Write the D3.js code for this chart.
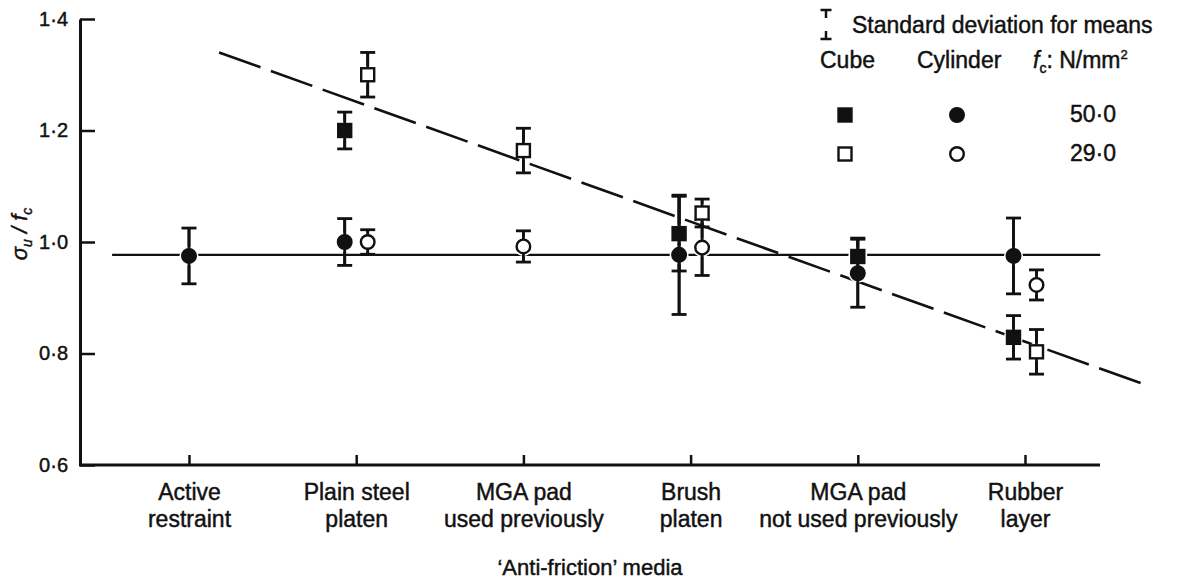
<!DOCTYPE html>
<html>
<head>
<meta charset="utf-8">
<script src="https://cdn.jsdelivr.net/npm/d3@7"></script>
<style>
  html, body { margin: 0; padding: 0; background: #fff; }
  svg { display: block; font-family: "Liberation Sans", Arial, Helvetica, sans-serif; }
  svg text { stroke: #111; stroke-width: 0.45px; }
</style>
</head>
<body>
<script>
// Anti-friction media along the loading platens
const categories = [
  "Active restraint",
  "Plain steel platen",
  "MGA pad used previously",
  "Brush platen",
  "MGA pad not used previously",
  "Rubber layer"
];
const categoryLines = [
  ["Active", "restraint"],
  ["Plain steel", "platen"],
  ["MGA pad", "used previously"],
  ["Brush", "platen"],
  ["MGA pad", "not used previously"],
  ["Rubber", "layer"]
];

// Mean sigma_u / f_c and standard deviation per medium (null = not tested)
const cube50     = [null, 1.200, null, 1.015, 0.974, 0.829];
const cube50Sd   = [null, 0.033, null, 0.067, 0.033, 0.039];
const cube29     = [null, 1.300, 1.164, 1.052, null, 0.803];
const cube29Sd   = [null, 0.040, 0.040, 0.025, null, 0.040];
const cyl50      = [0.975, 1.000, null, 0.977, 0.944, 0.975];
const cyl50Sd    = [0.050, 0.042, null, 0.107, 0.061, 0.068];
const cyl29      = [null, 1.000, 0.992, 0.990, null, 0.923];
const cyl29Sd    = [null, 0.022, 0.028, 0.050, null, 0.027];

// Reference lines (x given as category index)
const cylinderMeanLine = { value: 0.977, from: -0.46, to: 5.45 };
const cubeTrendLine = [ { i: 0.18, v: 1.340 }, { i: 5.70, v: 0.746 } ];

const yTicks = [0.6, 0.8, 1.0, 1.2, 1.4];
const strengthLabels = ["50·0", "29·0"];

const W = 1182, H = 581;
const plot = { left: 80, right: 1100, top: 19, bottom: 465 };
const ink = "#111";

const svg = d3.select("body").append("svg").attr("width", W).attr("height", H);

const x = d3.scalePoint().domain(categories).range([189, 1025]);
const xi = d3.scaleLinear().domain([0, categories.length - 1]).range(x.range());
const y = d3.scaleLinear().domain([0.6, 1.4]).range([plot.bottom, plot.top]);

// y axis: ticks point into the plot
const yAxis = d3.axisLeft(y)
  .tickValues(yTicks)
  .tickSizeInner(-15)
  .tickSizeOuter(0)
  .tickPadding(12)
  .tickFormat(d => d3.format(".1f")(d).replace(".", "·"));
const gy = svg.append("g").attr("transform", `translate(${plot.left},0)`).call(yAxis);
gy.select(".domain").attr("stroke", ink).attr("stroke-width", 3);
gy.selectAll(".tick line").attr("stroke", ink).attr("stroke-width", 2.5);
gy.selectAll(".tick text").attr("fill", ink).attr("font-size", 20)
  .attr("font-family", "'Liberation Sans', Arial, sans-serif");

// x axis: baseline spans the whole frame, ticks point up
svg.append("line")
  .attr("x1", plot.left - 1).attr("x2", plot.right)
  .attr("y1", plot.bottom).attr("y2", plot.bottom)
  .attr("stroke", ink).attr("stroke-width", 3);
const xAxis = d3.axisBottom(x).tickSizeInner(-10).tickSizeOuter(0).tickFormat("");
const gx = svg.append("g").attr("transform", `translate(0,${plot.bottom})`).call(xAxis);
gx.select(".domain").remove();
gx.selectAll(".tick line").attr("stroke", ink).attr("stroke-width", 2.5);
gx.selectAll(".tick").each(function(d, i) {
  const t = d3.select(this).append("text")
    .attr("text-anchor", "middle").attr("fill", ink).attr("font-size", 23);
  categoryLines[i].forEach((ln, k) => {
    t.append("tspan").attr("x", 0).attr("y", 35 + k * 27).text(ln);
  });
});

// axis titles
svg.append("text")
  .attr("x", 590).attr("y", 575).attr("text-anchor", "middle")
  .attr("fill", ink).attr("font-size", 22)
  .text("\u2018Anti-friction\u2019 media");

const yl = svg.append("text")
  .attr("transform", "translate(27,234) rotate(-90)")
  .attr("text-anchor", "middle").attr("fill", ink).attr("font-size", 22)
  .attr("font-style", "italic");
yl.append("tspan").text("σ");
yl.append("tspan").attr("font-size", 14).attr("dy", 5).text("u");
yl.append("tspan").attr("dy", -5).text(" / f");
yl.append("tspan").attr("font-size", 14).attr("dy", 5).text("c");

// reference lines
svg.append("line")
  .attr("x1", xi(cylinderMeanLine.from)).attr("x2", xi(cylinderMeanLine.to))
  .attr("y1", y(cylinderMeanLine.value)).attr("y2", y(cylinderMeanLine.value))
  .attr("stroke", ink).attr("stroke-width", 2.2);

svg.append("path")
  .datum(cubeTrendLine)
  .attr("d", d3.line().x(d => xi(d.i)).y(d => y(d.v)))
  .attr("fill", "none").attr("stroke", ink).attr("stroke-width", 2.6)
  .attr("stroke-dasharray", "44,11");

// series and their marker styles
const series = [
  { mean: cube50, sd: cube50Sd, shape: "square", filled: true },
  { mean: cyl50,  sd: cyl50Sd,  shape: "circle", filled: true },
  { mean: cube29, sd: cube29Sd, shape: "square", filled: false },
  { mean: cyl29,  sd: cyl29Sd,  shape: "circle", filled: false }
];

// filled and open markers sit side by side where both were tested
const hasFilled = categories.map((c, i) => cube50[i] != null || cyl50[i] != null);
const hasOpen = categories.map((c, i) => cube29[i] != null || cyl29[i] != null);
const shift = 11.5;
function px(s, i) {
  const base = x(categories[i]);
  if (!(hasFilled[i] && hasOpen[i])) return base;
  return base + (s.filled ? -shift : shift);
}

const points = [];
series.forEach(s => {
  s.mean.forEach((m, i) => {
    if (m != null) points.push({ s, i, m, sd: s.sd[i] });
  });
});

// error bars
const capW = 7.5;
const eb = svg.append("g").attr("stroke", ink).attr("stroke-width", 2.8);
points.forEach(p => {
  const cx = px(p.s, p.i);
  const y1 = y(p.m + p.sd), y2 = y(p.m - p.sd);
  eb.append("line").attr("x1", cx).attr("x2", cx).attr("y1", y1).attr("y2", y2);
  eb.append("line").attr("x1", cx - capW).attr("x2", cx + capW).attr("y1", y1).attr("y2", y1);
  eb.append("line").attr("x1", cx - capW).attr("x2", cx + capW).attr("y1", y2).attr("y2", y2);
});

function drawMarker(g, shape, filled, cx, cy) {
  if (shape === "square") {
    const a = 13;
    g.append("rect").attr("x", cx - a / 2).attr("y", cy - a / 2)
      .attr("width", a).attr("height", a)
      .attr("fill", filled ? ink : "#fff").attr("stroke", ink).attr("stroke-width", 2.4);
  } else {
    g.append("circle").attr("cx", cx).attr("cy", cy).attr("r", 6.8)
      .attr("fill", filled ? ink : "#fff").attr("stroke", ink).attr("stroke-width", 2.4);
  }
}

const mk = svg.append("g");
// white halos keep the reference lines clear of the markers
points.forEach(p => {
  mk.append("circle").attr("cx", px(p.s, p.i)).attr("cy", y(p.m)).attr("r", 9.5).attr("fill", "#fff");
});
// redraw the bar stems through the halos
points.forEach(p => {
  const cx = px(p.s, p.i);
  mk.append("line").attr("x1", cx).attr("x2", cx)
    .attr("y1", y(p.m + p.sd)).attr("y2", y(p.m - p.sd))
    .attr("stroke", ink).attr("stroke-width", 2.8);
});
points.forEach(p => drawMarker(mk, p.s.shape, p.s.filled, px(p.s, p.i), y(p.m)));

// legend
const lg = svg.append("g").attr("fill", ink).attr("font-size", 23);
const ex = 826;
lg.append("path")
  .attr("d", `M${ex - 5.5},10 H${ex + 5.5} M${ex},10 V18 M${ex},31 V39 M${ex - 5.5},39 H${ex + 5.5}`)
  .attr("stroke", ink).attr("stroke-width", 2.5).attr("fill", "none");
lg.append("text").attr("x", 852).attr("y", 33).text("Standard deviation for means");
lg.append("text").attr("x", 820).attr("y", 68).text("Cube");
lg.append("text").attr("x", 917).attr("y", 68).text("Cylinder");
const fu = lg.append("text").attr("x", 1033).attr("y", 68);
fu.append("tspan").attr("font-style", "italic").text("f");
fu.append("tspan").attr("font-size", 14).attr("dy", 5).text("c");
fu.append("tspan").attr("dy", -5).text(": N/mm");
fu.append("tspan").attr("font-size", 13).attr("dy", -9).text("2");

const legendRows = [
  { filled: true, yPos: 115 },
  { filled: false, yPos: 154 }
];
legendRows.forEach((r, k) => {
  drawMarker(lg, "square", r.filled, 845, r.yPos);
  drawMarker(lg, "circle", r.filled, 957, r.yPos);
  lg.append("text").attr("x", 1070).attr("y", r.yPos + 7).text(strengthLabels[k]);
});
</script>
</body>
</html>
